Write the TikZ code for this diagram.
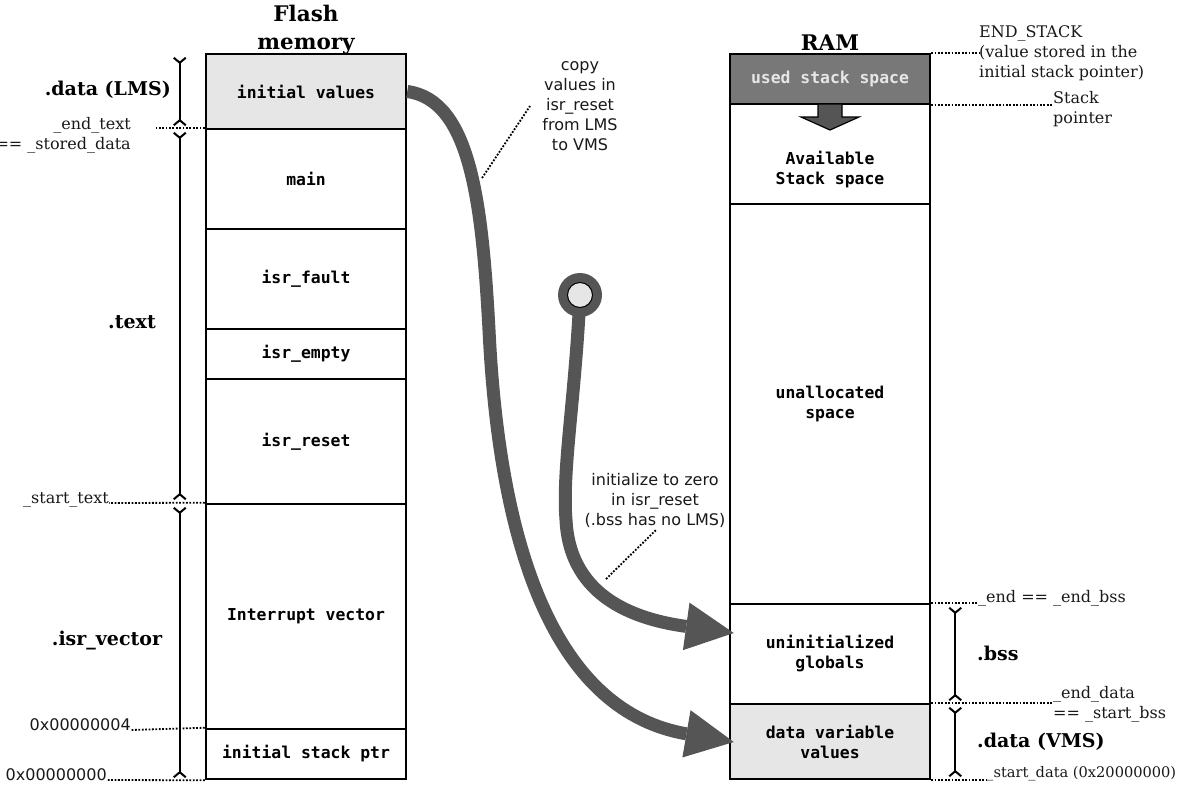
\documentclass[tikz,border=0pt]{standalone}
\usepackage{fontspec}
\setmainfont{DejaVu Serif}
\newfontfamily\monof{DejaVu Sans Mono}
\newfontfamily\sansf{DejaVu Sans}
\usetikzlibrary{arrows.meta,calc}
\definecolor{lightfill}{HTML}{E6E6E6}
\definecolor{usedfill}{HTML}{787878}
\definecolor{arrowgray}{HTML}{555555}
\begin{document}
\begin{tikzpicture}[x=1pt,y=-1pt,
  cell/.style={draw=black, line width=2.5pt, minimum width=200pt, inner sep=0pt,
    font=\monof\bfseries\fontsize{16.4}{20}\selectfont, align=center},
  celltext/.style={inner sep=0pt, font=\monof\bfseries\fontsize{16.4}{20}\selectfont, align=center},
  lab/.style={font=\fontsize{16}{20}\selectfont, inner sep=0pt, text=black!90},
  sanslab/.style={font=\sansf\fontsize{16}{20}\selectfont, inner sep=0pt, align=center, text=black!90},
  sec/.style={font=\bfseries\fontsize{19}{22}\selectfont, inner sep=0pt},
  ttl/.style={font=\bfseries\fontsize{21.5}{28}\selectfont, inner sep=0pt, align=center},
  leader/.style={line width=1.8pt, dash pattern=on 1.8pt off 1.6pt, black},
  brk/.style={line width=2pt, {Straight Barb[reversed,length=5pt,width=12pt]}-{Straight Barb[reversed,length=5pt,width=12pt]}},
  bigarrow/.style={draw=arrowgray, line width=13pt, -{Triangle[length=48pt,width=48pt,line width=0pt]}}
]
\useasboundingbox (0,0) rectangle (1183,792);

% ---------------- Flash memory ----------------
\node[ttl] (tflash) at (306,30) {Flash\\memory};
\node[cell, fill=lightfill, minimum height=75pt] (iv) at (306,91.5) {initial values};
\node[cell, minimum height=100pt] (main) at (306,179) {main};
\node[cell, minimum height=100pt] (fault) at (306,279) {isr\_fault};
\node[cell, minimum height=50pt] (empty) at (306,354) {isr\_empty};
\node[cell, minimum height=125pt] (reset) at (306,441.5) {isr\_reset};
\node[cell, minimum height=225pt] (ivec) at (306,616.5) {Interrupt vector};
\node[cell, minimum height=50pt] (isp) at (306,754) {initial stack ptr};

% ---------------- RAM ----------------
\node[ttl] (tram) at (830,43) {RAM};
\node[cell, fill=usedfill, text=lightfill, minimum height=50pt] (used) at (830,79) {used stack space};
\node[cell, minimum height=100pt] (avail) at (830,154) {};
\node[celltext] (availtxt) at (830,169.5) {Available\\Stack space};
\node[cell, minimum height=400pt] (unal) at (830,404) {unallocated\\space};
\node[cell, minimum height=100pt] (ug) at (830,654) {uninitialized\\globals};
\node[cell, fill=lightfill, minimum height=75pt] (dv) at (830,741.5) {data variable\\values};

% stack growth arrow
\draw[line width=1.2pt, fill=arrowgray] (818,104) -- (818,117) -- (801,117) -- (830,130) -- (859,117) -- (842,117) -- (842,104) -- cycle;

% ---------------- left brackets and labels ----------------
\draw[brk] ($(iv.north west)+(-25,4)$) -- ($(iv.south west)+(-25,-4)$);
\draw[brk] ($(main.north west)+(-25,4)$) -- ($(reset.south west)+(-25,-5)$);
\draw[brk] ($(ivec.north west)+(-25,4)$) -- ($(isp.south west)+(-25,-2)$);

\node[sec, anchor=east] (slms) at (171,90) {.data (LMS)};
\node[sec] (stext) at (132,322) {.text};
\node[sec] (sisr) at (107,641) {.isr\_vector};

\node[lab, anchor=east, align=right] (lendtext) at (131,135) {\_end\_text\\== \_stored\_data};
\node[lab, anchor=base east] (lstarttext) at (109,503) {\_start\_text};
\node[sanslab, anchor=base east] (l4) at (131,730) {0x00000004};
\node[sanslab, anchor=base east] (l0) at (107,780) {0x00000000};

\draw[leader] (main.north west) -- +(-49,0);
\draw[leader] (ivec.north west) -- (lstarttext.base east);
\draw[leader] (isp.north west) -- (l4.base east);
\draw[leader] (isp.south west) -- (l0.base east);

% ---------------- right brackets and labels ----------------
\draw[brk] ($(ug.north east)+(24,4)$) -- ($(ug.south east)+(24,-4)$);
\draw[brk] ($(dv.north east)+(24,4)$) -- ($(dv.south east)+(24,-3)$);

\node[sec, anchor=west] (sbss) at (977,653) {.bss};
\node[sec, anchor=west] (svms) at (977,742) {.data (VMS)};

\node[lab, anchor=west, align=left] (lendstack) at (979,53.5) {END\_STACK\\(value stored in the\\initial stack pointer)};
\node[lab, anchor=west, align=left] (lsp) at (1053,109) {Stack\\pointer};
\node[lab, anchor=west] (lend) at (978,598) {\_end == \_end\_bss};
\node[lab, anchor=west, align=left] (lenddata) at (1053,704) {\_end\_data\\== \_start\_bss};
\node[lab, anchor=west, font=\fontsize{14.6}{20}\selectfont] (lstartdata) at (986,774) {\_start\_data (0x20000000)};

\draw[leader] (used.north east) -- +(48,0);
\draw[leader] (used.south east) -- +(122,0);
\draw[leader] (ug.north east) -- +(47,0);
\draw[leader] (dv.north east) -- +(122,0);
\draw[leader] (dv.south east) -- +(55,0);

% ---------------- curved arrows ----------------
\coordinate (zc) at (580,295);
\draw[bigarrow] (iv.east) .. controls (470,100) and (482,200) .. (489,330)
  .. controls (500,560) and (560,712) .. ($(dv.west)+(5,0.5)$);
\draw[bigarrow] (zc) .. controls (575,400) and (562,470) .. (566,520)
  .. controls (570,600) and (640,620) .. ($(ug.west)+(5,-21)$);
\node[circle, fill=arrowgray, minimum size=44pt, inner sep=0pt] (ring) at (zc) {};
\node[circle, fill=lightfill, draw=black, line width=1pt, minimum size=25pt, inner sep=0pt] (hole) at (zc) {};

% ---------------- annotations ----------------
\node[sanslab] (copytxt) at (580,106) {copy\\values in\\isr\_reset\\from LMS\\to VMS};
\coordinate (copyA) at (482,178);
\coordinate (copyB) at (530,106);
\draw[leader] (copyA) -- (copyB);

\node[sanslab] (inittxt) at (655,500) {initialize to zero\\in isr\_reset\\(.bss has no LMS)};
\coordinate (initA) at (606,579);
\coordinate (initB) at (656,530);
\draw[leader] (initA) -- (initB);
\end{tikzpicture}
\end{document}
